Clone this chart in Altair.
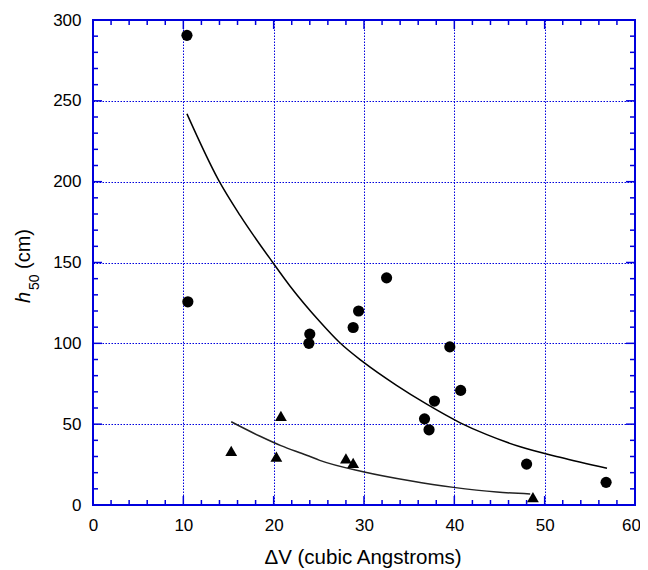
import altair as alt
import pandas as pd

# ---- data ----
circle_x = [10.4, 10.5, 23.9, 24.0, 28.8, 29.4, 32.5, 36.7, 37.2, 37.8, 39.5, 40.7, 48.0, 56.8]
circle_y = [290.5, 125.7, 100.0, 105.7, 109.8, 120.0, 140.5, 53.3, 46.5, 64.3, 97.8, 70.9, 25.3, 14.0]

tri_x = [15.3, 20.3, 20.8, 28.0, 28.8, 48.7]
tri_y = [33.5, 29.9, 55.2, 28.9, 26.0, 4.8]

fit1_x = [10.4, 13.9, 16.3, 19.9, 21.8, 25.1, 27.3, 29.9, 33.6, 36.9, 40.6, 43.6, 47.3, 51.7, 56.9]
fit1_y = [242, 201, 179, 150, 135.5, 113.5, 100.5, 88.5, 74, 62.5, 51, 43.5, 36, 29.5, 22.7]

fit2_x = [15.3, 18.5, 20.8, 23.65, 25.1, 29.9, 35.1, 39.9, 44.7, 48.4]
fit2_y = [51.5, 42.5, 36.7, 30.8, 27.6, 20.6, 15.0, 10.9, 8.0, 6.8]

x_major = [0, 10, 20, 30, 40, 50, 60]
x_minor = [2, 4, 6, 8, 12, 14, 16, 18, 22, 24, 26, 28, 32, 34, 36, 38, 42, 44, 46, 48, 52, 54, 56, 58]
y_major = [0, 50, 100, 150, 200, 250, 300]
y_minor = [10, 20, 30, 40, 60, 70, 80, 90, 110, 120, 130, 140, 160, 170, 180, 190,
           210, 220, 230, 240, 260, 270, 280, 290]

W, H = 542, 485
BLUE = "#0000dd"
FONT = "Liberation Sans"

xs = alt.Scale(domain=[0, 60], nice=False, zero=False)
ys = alt.Scale(domain=[0, 300], nice=False, zero=False)

x_axis = alt.Axis(values=x_major, ticks=False, tickSize=0, domain=False, grid=True,
                  gridColor=BLUE, gridDash=[1.5, 1.5], gridWidth=1, gridOpacity=1,
                  labelFont=FONT, labelFontSize=17, labelColor="black", labelPadding=12,
                  labelFlush=False, title=None,
                  labelOffset={"condition": {"test": "datum.value == 60", "value": -4},
                               "value": 0})
y_axis = alt.Axis(values=y_major, ticks=False, tickSize=0, domain=False, grid=True,
                  gridColor=BLUE, gridDash=[1.5, 1.5], gridWidth=1, gridOpacity=1,
                  labelFont=FONT, labelFontSize=17, labelColor="black", labelPadding=12,
                  labelFlush=False, title=None)


def X(field):
    return alt.X(field, scale=xs, axis=x_axis)


def Y(field):
    return alt.Y(field, scale=ys, axis=y_axis)


circles = pd.DataFrame({"x": circle_x, "y": circle_y})
tris = pd.DataFrame({"x": tri_x, "y": tri_y})
fit1 = pd.DataFrame({"x": fit1_x, "y": fit1_y})
fit2 = pd.DataFrame({"x": fit2_x, "y": fit2_y})

line1 = alt.Chart(fit1).mark_line(color="black", strokeWidth=1.5, interpolate="monotone").encode(
    x=X("x:Q"), y=Y("y:Q"))
line2 = alt.Chart(fit2).mark_line(color="#222222", strokeWidth=1.5, interpolate="monotone").encode(
    x=X("x:Q"), y=Y("y:Q"))

pts = alt.Chart(circles).mark_point(shape="circle", filled=True, color="black",
                                    size=125, opacity=1).encode(x=X("x:Q"), y=Y("y:Q"))
tri = alt.Chart(tris).mark_point(shape="triangle-up", filled=True, color="black",
                                 size=140, opacity=1).encode(x=X("x:Q"), y=Y("y:Q"))


def xticks(vals, length):
    df = pd.DataFrame({"v": vals})
    bottom = alt.Chart(df).mark_rule(color=BLUE, strokeWidth=1.5).encode(
        x=X("v:Q"), y=alt.value(H), y2=alt.value(H - length))
    top = alt.Chart(df).mark_rule(color=BLUE, strokeWidth=1.5).encode(
        x=X("v:Q"), y=alt.value(0), y2=alt.value(length))
    return [bottom, top]


def yticks(vals, length):
    df = pd.DataFrame({"v": vals})
    left = alt.Chart(df).mark_rule(color=BLUE, strokeWidth=1.5).encode(
        y=Y("v:Q"), x=alt.value(0), x2=alt.value(length))
    right = alt.Chart(df).mark_rule(color=BLUE, strokeWidth=1.5).encode(
        y=Y("v:Q"), x=alt.value(W), x2=alt.value(W - length))
    return [left, right]


ticks = xticks(x_major, 9) + xticks(x_minor, 5) + yticks(y_major, 9) + yticks(y_minor, 5)

one = pd.DataFrame({"a": [0]})


def label(txt, x, y, size, angle=0, style="normal", align="left"):
    return alt.Chart(one).mark_text(text=txt, font=FONT, fontSize=size, fontStyle=style,
                                    angle=angle, align=align, baseline="alphabetic",
                                    color="black").encode(x=alt.value(x), y=alt.value(y))


titles = [
    label("h", -63, 283, 20, angle=270, style="italic"),
    label("50", -54, 270, 14, angle=270),
    label("(cm)", -63, 249, 20, angle=270),
    label("\u0394V (cubic Angstroms)", W / 2 - 1, 544, 20.5, align="center"),
]

chart = alt.layer(*ticks, line1, line2, pts, tri, *titles).properties(
    width=W, height=H,
    autosize=alt.AutoSizeParams(type="none"),
    padding={"left": 85, "top": 12, "right": 5, "bottom": 65},
).configure_view(stroke=BLUE, strokeWidth=2)

chart.save("out.html", embed_options={"renderer": "svg", "actions": False})
